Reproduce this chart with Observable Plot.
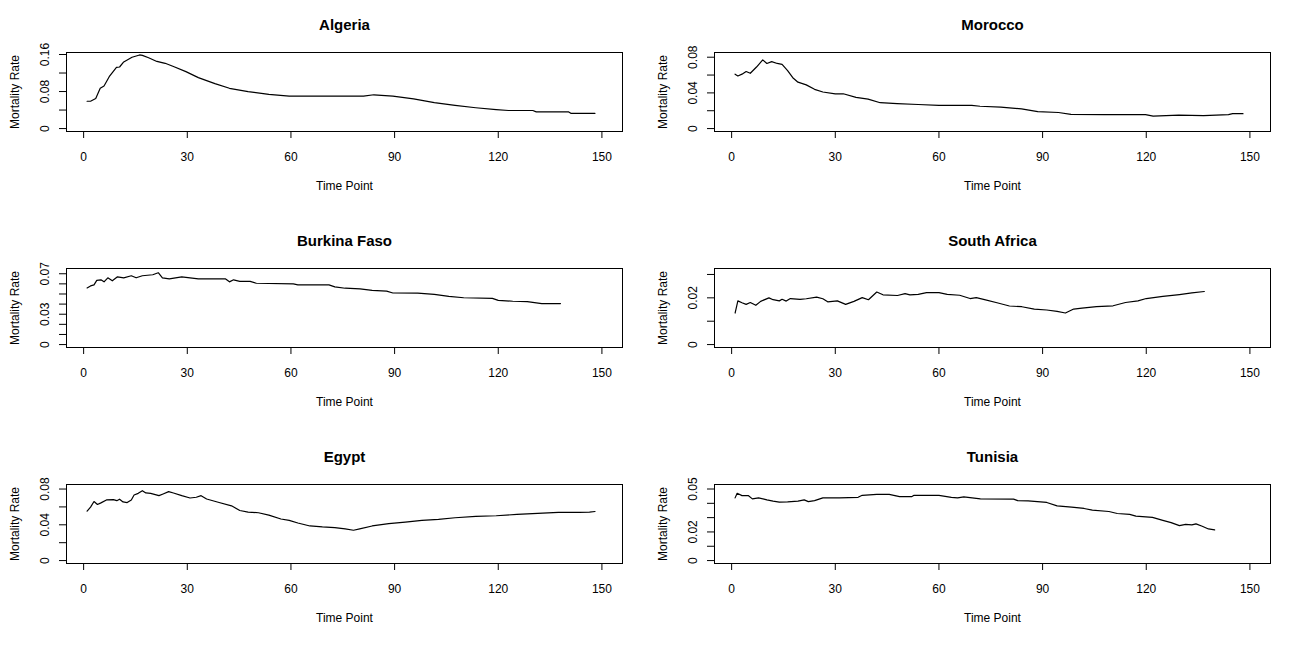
<!DOCTYPE html>
<html><head><meta charset="utf-8">
<script src="https://cdn.jsdelivr.net/npm/d3@7"></script>
<script src="https://cdn.jsdelivr.net/npm/@observablehq/plot@0.6"></script>
<style>
html,body{margin:0;padding:0;background:#fff;overflow:hidden;}
#grid{display:grid;grid-template-columns:648px 648px;grid-auto-rows:216px;width:1296px;}
#grid svg{display:block;}
</style></head><body><div id="grid"></div>
<script>
const countries = ["Algeria", "Morocco", "Burkina Faso", "South Africa", "Egypt", "Tunisia"];
const xTicks = [0, 30, 60, 90, 120, 150];
const xLimits = [1, 150];

const algeriaT = [1,2,3.5,4.8,5.9,7.4,9.5,10.4,11.6,14,16.2,17,18.8,21.2,23.6,26,29.6,33.2,38,42.2,47.6,53.6,59.5,71.5,81,84,89.5,95.5,101.5,107.5,113.5,119.4,123,130,131,140.4,141,148];
const algeriaRate = [0.059,0.059,0.065,0.087,0.092,0.112,0.132,0.133,0.144,0.154,0.159,0.158,0.153,0.145,0.141,0.134,0.123,0.110,0.097,0.087,0.080,0.074,0.070,0.070,0.070,0.073,0.070,0.064,0.056,0.050,0.045,0.041,0.039,0.039,0.036,0.036,0.033,0.033];

const moroccoT = [1,1.8,3,4.2,5.4,7.2,9,10.2,11.6,13.2,14.6,16.2,17.7,19.2,21.6,24,26.4,30,32.3,36,39.5,43,47.9,54,60,69.5,71.9,77.9,83.9,88.6,94.6,98.2,107.8,119.8,122,129.4,136.6,143.8,145,148];
const moroccoRate = [0.061,0.059,0.061,0.064,0.062,0.069,0.077,0.073,0.075,0.073,0.072,0.065,0.057,0.052,0.049,0.044,0.041,0.039,0.039,0.035,0.033,0.029,0.028,0.027,0.026,0.026,0.025,0.024,0.022,0.019,0.018,0.016,0.0156,0.0156,0.014,0.015,0.0145,0.0156,0.0167,0.0167];

const burkinaT = [1,2,3,3.8,5,5.9,7,8.3,9.8,11.6,13.8,15.2,17,20,21.6,22.8,24.8,28.4,33.2,41,42.2,43.4,45.2,48.2,50,60.7,62,71,72.7,75.7,80,83.5,87.7,89.5,96.7,101.5,105.7,110,118.3,120,124.2,128.4,132.6,138];
const burkinaRate = [0.056,0.058,0.059,0.0635,0.064,0.062,0.066,0.063,0.067,0.066,0.068,0.066,0.068,0.069,0.071,0.066,0.065,0.067,0.065,0.065,0.062,0.064,0.0625,0.0625,0.0606,0.060,0.059,0.059,0.057,0.0557,0.055,0.0535,0.0528,0.051,0.0509,0.0496,0.0476,0.0463,0.0457,0.0437,0.0428,0.0424,0.0405,0.0405];

const southAfricaT = [1,1.8,3,4.2,5.4,7,8.4,10.8,12,13.8,14.6,15.8,17,19.8,21.6,24.6,26.4,27.8,30.6,33,35.4,37.8,39.6,42,43.8,48,50.2,51.6,54,56.4,60,62.4,66,69,70.8,73.2,76.8,80.4,84,87.6,91.2,94.2,96.6,99,101.4,105.6,110.4,114,117.6,120,124.8,129.6,133.2,136.8];
const southAfricaRate = [0.0135,0.0187,0.0179,0.0172,0.018,0.0168,0.0185,0.020,0.0192,0.0187,0.0194,0.0186,0.0197,0.0193,0.0196,0.0203,0.0196,0.0183,0.0187,0.0172,0.0185,0.0201,0.0192,0.0225,0.0213,0.021,0.0218,0.0213,0.0215,0.0222,0.0222,0.0215,0.0211,0.0197,0.0201,0.0192,0.0179,0.0165,0.0162,0.0152,0.0148,0.0142,0.0135,0.0152,0.0156,0.0162,0.0166,0.018,0.0187,0.0197,0.0206,0.0214,0.0221,0.0227];

const egyptT = [1,2,3,4,5,6.6,8.6,9.6,10.4,11.4,12.6,13.8,14.6,15.8,17,18,19.4,21.8,23,24.6,26,28.4,30.8,32.6,34,35.6,39.2,42.8,45.2,47.6,50.6,53.6,57.1,59.5,62,65.5,69.1,72.7,75.7,78.1,79.9,83.5,88.3,93.1,97.9,102.7,107.5,113.5,119.4,125.4,131.4,137.4,143.4,146.4,148];
const egyptRate = [0.0553,0.0597,0.066,0.0627,0.0645,0.0678,0.0682,0.067,0.0686,0.0656,0.0649,0.0678,0.0734,0.0752,0.0782,0.0756,0.0752,0.0726,0.0745,0.0771,0.0756,0.0726,0.070,0.0708,0.0726,0.0689,0.0649,0.0612,0.056,0.0542,0.0535,0.0509,0.0465,0.045,0.042,0.0387,0.0376,0.0369,0.0354,0.0339,0.0354,0.0387,0.0413,0.0431,0.045,0.0461,0.0479,0.0494,0.0501,0.0516,0.0527,0.0538,0.0538,0.0542,0.0549];

const tunisiaT = [1,1.6,3,4.8,6,7.8,10.2,12,13.8,16.2,19.2,21,22.2,24,26.4,31.2,36.6,37.8,42,45.6,48.6,52.2,52.8,60,63.6,65.4,67.2,72,81.6,82.8,85.8,91.2,94.2,98.4,102,104.4,109.2,111.6,115.2,117,121.8,124.8,127.2,129.6,131.4,133.2,134.4,136.2,138,139.8];
const tunisiaRate = [0.0438,0.047,0.0454,0.0454,0.0431,0.0438,0.0424,0.0415,0.0408,0.041,0.0415,0.0424,0.0412,0.0419,0.0438,0.0438,0.0442,0.0456,0.0463,0.0463,0.0447,0.0447,0.0456,0.0456,0.0442,0.0438,0.0445,0.0431,0.0429,0.0419,0.0417,0.0406,0.0382,0.0373,0.0364,0.0353,0.0343,0.0329,0.0323,0.0311,0.0302,0.0281,0.0265,0.0244,0.0253,0.0249,0.0256,0.024,0.0221,0.0214];

const yLimits = [0.158, 0.082, 0.0723, 0.0313, 0.0818, 0.0511];
const yTicks = [
  [0, 0.04, 0.08, 0.12, 0.16],
  [0, 0.02, 0.04, 0.06, 0.08],
  [0, 0.01, 0.02, 0.03, 0.04, 0.05, 0.06, 0.07],
  [0, 0.01, 0.02, 0.03],
  [0, 0.02, 0.04, 0.06, 0.08],
  [0, 0.01, 0.02, 0.03, 0.04, 0.05]
];
const yLabelValues = [
  [0, 0.08, 0.16],
  [0, 0.04, 0.08],
  [0, 0.03, 0.07],
  [0, 0.02],
  [0, 0.04, 0.08],
  [0, 0.02, 0.05]
];
const yLabelTexts = [
  ["0", "0.08", "0.16"],
  ["0", "0.04", "0.08"],
  ["0", "0.03", "0.07"],
  ["0", "0.02"],
  ["0", "0.04", "0.08"],
  ["0", "0.02", "0.05"]
];

const seriesT = [algeriaT, moroccoT, burkinaT, southAfricaT, egyptT, tunisiaT];
const seriesRate = [algeriaRate, moroccoRate, burkinaRate, southAfricaRate, egyptRate, tunisiaRate];

const grid = document.getElementById("grid");
const font = "'Liberation Sans', Arial, Helvetica, sans-serif";
const centered = {textAnchor: "middle", lineAnchor: "middle"};

countries.forEach((name, i) => {
  const data = seriesT[i].map((t, j) => ({t, v: seriesRate[i][j]}));
  const M = yLimits[i];
  const xPad = (xLimits[1] - xLimits[0]) * 0.04;
  const chart = Plot.plot({
    width: 648,
    height: 216,
    marginLeft: 66,
    marginRight: 26,
    marginTop: 52,
    marginBottom: 85,
    style: {fontFamily: font, fontSize: "12px", color: "#000", background: "#fff", overflow: "visible"},
    x: {domain: [xLimits[0] - xPad, xLimits[1] + xPad]},
    y: {domain: [-0.04 * M, 1.04 * M]},
    marks: [
      Plot.frame({stroke: "#000"}),
      Plot.axisX({ticks: xTicks, tickSize: 7, tickPadding: 14, label: null, fontSize: 12}),
      Plot.axisY({ticks: yTicks[i], tickSize: 7, tickFormat: () => "", label: null}),
      Plot.text(yLabelValues[i], {y: d => d, text: yLabelTexts[i], frameAnchor: "left", dx: -21, rotate: -90, fontSize: 12, ...centered}),
      Plot.line(data, {x: "t", y: "v", stroke: "#000", strokeWidth: 1.2}),
      Plot.text([name], {frameAnchor: "top", dy: -27.5, fontWeight: "bold", fontSize: 15, ...centered}),
      Plot.text(["Time Point"], {frameAnchor: "bottom", dy: 55, fontSize: 12, ...centered}),
      Plot.text(["Mortality Rate"], {frameAnchor: "left", dx: -51, rotate: -90, fontSize: 12, ...centered})
    ]
  });
  grid.appendChild(chart);
});
</script>
</body></html>
